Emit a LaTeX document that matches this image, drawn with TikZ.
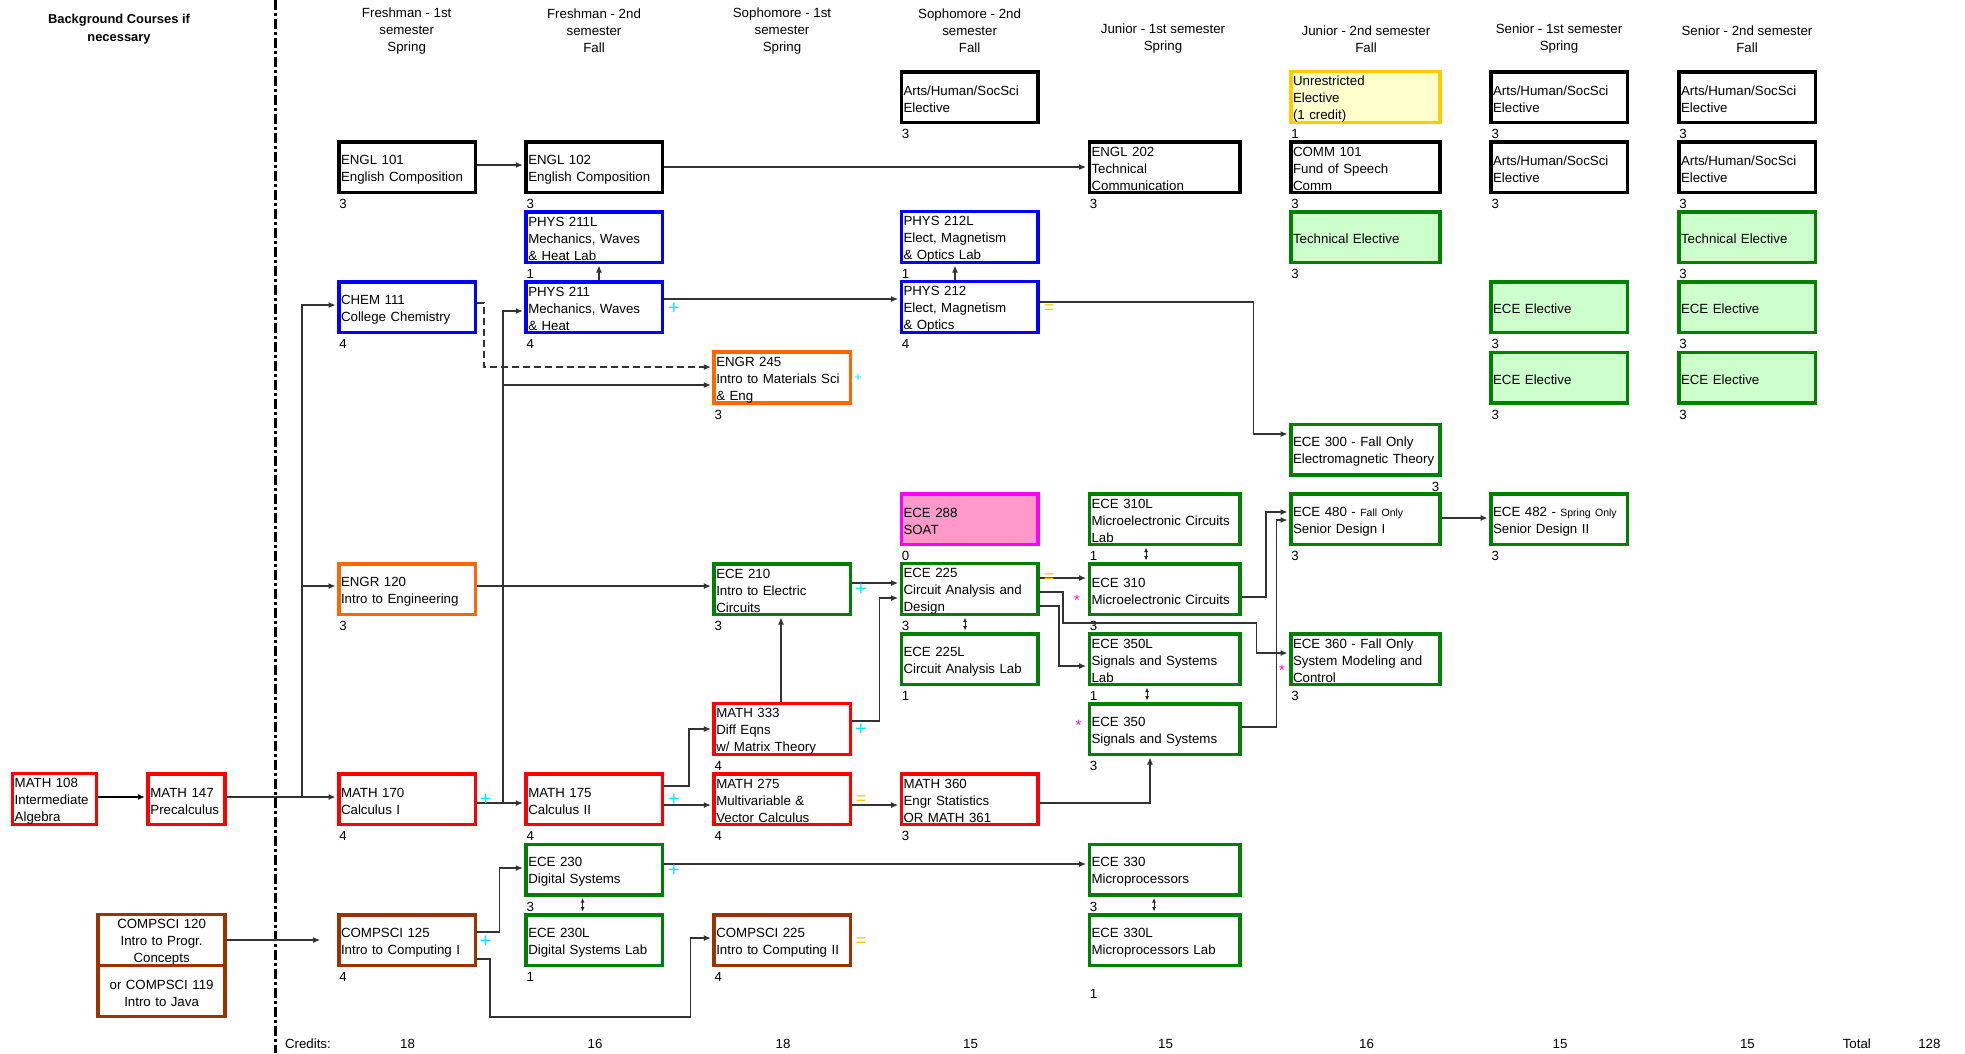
\documentclass[tikz,border=0pt]{standalone}
\usepackage{fontspec}
\setmainfont{Liberation Sans}
\usetikzlibrary{arrows.meta,calc}
\definecolor{ornge}{RGB}{255,102,0}
\definecolor{grnd}{RGB}{0,128,0}
\definecolor{brwn}{RGB}{153,51,0}
\definecolor{yelb}{RGB}{255,204,0}
\definecolor{yelf}{RGB}{255,255,204}
\definecolor{grnf}{RGB}{204,255,204}
\definecolor{pnkf}{RGB}{255,153,204}
\definecolor{magb}{RGB}{255,0,255}
\definecolor{cyanp}{RGB}{0,238,255}
\definecolor{blub}{RGB}{0,0,255}
\definecolor{redb}{RGB}{255,0,0}
\newcommand\nrm{\fontsize{13.3}{17}\selectfont}
\newcommand\smf{\fontsize{10.5}{17}\selectfont}
\newcommand\cred[2]{\node[crd] (#1-c) at ([xshift=2.25pt,yshift=-10pt]#1.south west) {#2};}
\tikzset{
  bx/.style={draw, line width=3.5pt, inner xsep=2.25pt, inner ysep=0pt, minimum height=50.5pt, align=left, text width=#1, execute at begin node={\rule{0pt}{14pt}}},
  bx/.default=132pt,
  sblk/.style={bx, draw=black},
  sblu/.style={bx, draw=blub},
  sred/.style={bx, draw=redb},
  sorg/.style={bx, draw=ornge},
  sgrn/.style={bx, draw=grnd},
  sbrn/.style={bx, draw=brwn},
  sylw/.style={bx=144.5pt, draw=yelb, fill=yelf},
  stech/.style={bx, draw=grnd, fill=grnf},
  spnk/.style={bx, draw=magb, fill=pnkf},
  wJ/.style={text width=146pt},
  wK/.style={text width=144.5pt},
  crd/.style={anchor=west, inner sep=0pt},
  arr/.style={draw=black!80, line width=1.1pt, -{Latex[length=7pt,width=6pt]}, shorten >=1.5pt},
  dbl/.style={draw=black!85, line width=1pt, {Latex[length=4.5pt,width=4pt]}-{Latex[length=4.5pt,width=4pt]}, shorten >=1.5pt, shorten <=1.5pt},
  cyplus/.style={text=cyanp, font=\fontsize{20}{20}\selectfont, inner sep=0pt},
  yeq/.style={text=yelb, font=\fontsize{18}{18}\selectfont, inner sep=0pt},
  mstar/.style={text=magb, font=\fontsize{15}{15}\selectfont, inner sep=0pt},
}
\begin{document}
\begin{tikzpicture}[x=1pt,y=-1pt, every node/.append style={font=\nrm}]
\useasboundingbox (0,0) rectangle (1965,1053);
% divider
\draw[line width=3pt, dash pattern=on 10pt off 3pt on 3pt off 3pt] (275.5,0) -- (275.5,1053);
% headers
\node[align=center, font=\bfseries\fontsize{12.9}{18}\selectfont] (bg) at (119,29) {Background Courses if\\necessary};
\node[align=center] (h1) at (406.7,31) {Freshman - 1st\\semester\\Spring};
\node[align=center] (h2) at (594,31) {Freshman - 2nd\\semester\\Fall};
\node[align=center] (h3) at (782,31) {Sophomore - 1st\\semester\\Spring};
\node[align=center] (h4) at (969.6,31) {Sophomore - 2nd\\semester\\Fall};
\node[align=center] (h5) at (1163,39) {Junior - 1st semester\\Spring};
\node[align=center] (h6) at (1366,39) {Junior - 2nd semester\\Fall};
\node[align=center] (h7) at (1559,39) {Senior - 1st semester\\Spring};
\node[align=center] (h8) at (1747,39) {Senior - 2nd semester\\Fall};
% row 0
\node[sblk] (ahs4) at (969.5,97) {Arts/Human/SocSci\\Elective}; \cred{ahs4}{3}
\node[sylw] (unr6) at (1365.25,97) {Unrestricted\\Elective\\(1 credit)}; \cred{unr6}{1}
\node[sblk] (ahs7a) at (1559.1,97) {Arts/Human/SocSci\\Elective}; \cred{ahs7a}{3}
\node[sblk] (ahs8a) at (1747,97) {Arts/Human/SocSci\\Elective}; \cred{ahs8a}{3}
% row 1
\node[sblk] (engl101) at (407,167) {ENGL 101\\English Composition}; \cred{engl101}{3}
\node[sblk] (engl102) at (594.25,167) {ENGL 102\\English Composition}; \cred{engl102}{3}
\node[sblk, wJ] (engl202) at (1164.5,167) {ENGL 202\\Technical\\Communication}; \cred{engl202}{3}
\node[sblk, wK] (comm101) at (1365.25,167) {COMM 101\\Fund of Speech\\Comm}; \cred{comm101}{3}
\node[sblk] (ahs7b) at (1559.1,167) {Arts/Human/SocSci\\Elective}; \cred{ahs7b}{3}
\node[sblk] (ahs8b) at (1747,167) {Arts/Human/SocSci\\Elective}; \cred{ahs8b}{3}
% row 2
\node[sblu] (phys211l) at (594.25,237) {PHYS 211L\\Mechanics, Waves\\\& Heat Lab}; \cred{phys211l}{1}
\node[sblu] (phys212l) at (969.5,237) {PHYS 212L\\Elect, Magnetism\\\& Optics Lab}; \cred{phys212l}{1}
\node[stech, wK] (tech6) at (1365.25,237) {Technical Elective}; \cred{tech6}{3}
\node[stech] (tech8) at (1747,237) {Technical Elective}; \cred{tech8}{3}
% row 3
\node[sblu] (chem111) at (407,307) {CHEM 111\\College Chemistry}; \cred{chem111}{4}
\node[sblu] (phys211) at (594.25,307) {PHYS 211\\Mechanics, Waves\\\& Heat}; \cred{phys211}{4}
\node[sblu] (phys212) at (969.5,307) {PHYS 212\\Elect, Magnetism\\\& Optics}; \cred{phys212}{4}
\node[stech] (ecee7a) at (1559.1,307) {ECE Elective}; \cred{ecee7a}{3}
\node[stech] (ecee8a) at (1747,307) {ECE Elective}; \cred{ecee8a}{3}
% row 4
\node[sorg] (engr245) at (782.25,377.5) {ENGR 245\\Intro to Materials Sci\\\& Eng}; \cred{engr245}{3}
\node[stech] (ecee7b) at (1559.1,377.5) {ECE Elective}; \cred{ecee7b}{3}
\node[stech] (ecee8b) at (1747,377.5) {ECE Elective}; \cred{ecee8b}{3}
% row 5
\node[sgrn, wK] (ece300) at (1365.25,449.5) {ECE 300 - Fall Only\\Electromagnetic Theory};
\node[anchor=east, inner sep=0pt] (ece300-c) at ([xshift=-2pt,yshift=-10pt]ece300.south east) {3};
% row 6
\node[spnk] (ece288) at (969.5,519) {ECE 288\\SOAT}; \cred{ece288}{0}
\node[sgrn, wJ] (ece310l) at (1164.5,519) {ECE 310L\\Microelectronic Circuits\\Lab}; \cred{ece310l}{1}
\node[sgrn, wK] (ece480) at (1365.25,519) {ECE 480 - {\smf Fall Only}\\Senior Design I}; \cred{ece480}{3}
\node[sgrn] (ece482) at (1559.1,519) {ECE 482 - {\smf Spring Only}\\Senior Design II}; \cred{ece482}{3}
% row 7
\node[sorg] (engr120) at (407,589) {ENGR 120\\Intro to Engineering}; \cred{engr120}{3}
\node[sgrn] (ece210) at (782.25,589) {ECE 210\\Intro to Electric\\Circuits}; \cred{ece210}{3}
\node[sgrn] (ece225) at (969.5,589) {ECE 225\\Circuit Analysis and\\Design}; \cred{ece225}{3}
\node[sgrn, wJ] (ece310) at (1164.5,589) {ECE 310\\Microelectronic Circuits}; \cred{ece310}{3}
% row 8
\node[sgrn] (ece225l) at (969.5,659) {ECE 225L\\Circuit Analysis Lab}; \cred{ece225l}{1}
\node[sgrn, wJ] (ece350l) at (1164.5,659) {ECE 350L\\Signals and Systems\\Lab}; \cred{ece350l}{1}
\node[sgrn, wK] (ece360) at (1365.25,659) {ECE 360 - Fall Only\\System Modeling and\\Control}; \cred{ece360}{3}
% row 9
\node[sred] (m333) at (782.25,729) {MATH 333\\Diff Eqns\\w/ Matrix Theory}; \cred{m333}{4}
\node[sgrn, wJ] (ece350) at (1164.5,729) {ECE 350\\Signals and Systems}; \cred{ece350}{3}
% row 10
\node[sred, text width=79.3pt] (n108) at (54.35,799) {MATH 108\\Intermediate\\Algebra};
\node[sred, text width=72.4pt] (n147) at (186.6,799) {MATH 147\\Precalculus};
\node[sred] (m170) at (407,799) {MATH 170\\Calculus I}; \cred{m170}{4}
\node[sred] (m175) at (594.25,799) {MATH 175\\Calculus II}; \cred{m175}{4}
\node[sred] (m275) at (782.25,799) {MATH 275\\Multivariable \&\\Vector Calculus}; \cred{m275}{4}
\node[sred] (m360) at (969.5,799) {MATH 360\\Engr Statistics\\OR MATH 361}; \cred{m360}{3}
% row 11
\node[sgrn] (ece230) at (594.25,869.5) {ECE 230\\Digital Systems}; \cred{ece230}{3}
\node[sgrn, wJ] (ece330) at (1164.5,869.5) {ECE 330\\Microprocessors}; \cred{ece330}{3}
% row 12
\node[sbrn, align=center, text width=122.4pt] (cs120) at (161.6,940) {COMPSCI 120\\Intro to Progr.\\Concepts};
\node[sbrn, align=center, text width=122.4pt, minimum height=51pt] (cs119) at (161.6,990.75) {or COMPSCI 119\\Intro to Java};
\node[sbrn] (cs125) at (407,940) {COMPSCI 125\\Intro to Computing I}; \cred{cs125}{4}
\node[sgrn] (ece230l) at (594.25,940) {ECE 230L\\Digital Systems Lab}; \cred{ece230l}{1}
\node[sbrn] (cs225) at (782.25,940) {COMPSCI 225\\Intro to Computing II}; \cred{cs225}{4}
\node[sgrn, wJ] (ece330l) at (1164.5,940) {ECE 330L\\Microprocessors Lab};
\node[crd] (ece330l-c) at ([xshift=2.25pt,yshift=-26.75pt]ece330l.south west) {1};
% credits row
\node[anchor=west, inner sep=0pt] (crlab) at (284.8,1044) {Credits:};
\node (cr1) at (407.6,1044) {18};
\node (cr2) at (595,1044) {16};
\node (cr3) at (783,1044) {18};
\node (cr4) at (970.5,1044) {15};
\node (cr5) at (1165.6,1044) {15};
\node (cr6) at (1366.6,1044) {16};
\node (cr7) at (1560,1044) {15};
\node (cr8) at (1747.4,1044) {15};
\node (crt) at (1856.8,1044) {Total};
\node (crn) at (1929.4,1044) {128};
% connectors
\coordinate (j1) at (302,797);
\coordinate (j2) at (503,803);
\coordinate (cs125in) at (321.5,940);
\draw[arr, line width=2pt, draw=black] (n108.east |- 0,797) -- (n147.west |- 0,797);
\draw[arr] (n147.east |- 0,797) -- (m170.west |- 0,797);
\draw[arr] (j1) |- (chem111.west |- 0,305);
\draw[arr] (j1) |- (engr120.west |- 0,586);
\draw[arr] (m170.east |- 0,803) -- (m175.west |- 0,803);
\draw[arr] (j2) |- (phys211.west |- 0,311);
\draw[arr] (j2) |- (engr245.west |- 0,385);
\draw[arr] (engl101.east |- 0,165) -- (engl102.west |- 0,165);
\draw[arr] (engl102.east |- 0,167) -- (engl202.west |- 0,167);
\draw[arr] (phys211.north -| 599,0) -- (phys211l.south -| 599,0);
\draw[arr] (phys211.east |- 0,299) -- (phys212.west |- 0,299);
\draw[arr] (phys212.north -| 955,0) -- (phys212l.south -| 955,0);
\draw[arr] (phys212.east |- 0,302) -- (1253.5,302) -- (1253.5,434) -- (ece300.west |- 0,434);
\draw[arr, dashed, dash pattern=on 7pt off 4pt] (chem111.east |- 0,303) -- (484,303) -- (484,367) -- (engr245.west |- 0,367);
\draw[arr] (engr120.east |- 0,586) -- (ece210.west |- 0,586);
\draw[arr] (ece210.east |- 0,583) -- (ece225.west |- 0,583);
\draw[arr] (m333.north -| 781,0) -- (ece210.south -| 781,0);
\draw[arr] (m333.east |- 0,721) -- (879.5,721) -- (879.5,598) -- (ece225.west |- 0,598);
\draw[arr] (m175.east |- 0,786) -- (689,786) -- (689,729) -- (m333.west |- 0,729);
\draw[arr] (m175.east |- 0,805) -- (m275.west |- 0,805);
\draw[arr] (m275.east |- 0,805) -- (m360.west |- 0,805);
\draw[arr] (m360.east |- 0,803) -- (1150,803) -- (ece350.south -| 1150,0);
\draw[dbl] (ece225.south -| 965,0) -- (ece225l.north -| 965,0);
\draw[arr] (ece225.east |- 0,578) -- (ece310.west |- 0,578);
\draw[arr] (ece225.east |- 0,592) -- (1063,592) -- (1063,623) -- (1256.6,623) -- (1256.6,653) -- (ece360.west |- 0,653);
\draw[arr] (ece225.east |- 0,606) -- (1059,606) -- (1059,666) -- (ece350l.west |- 0,666);
\draw[dbl] (ece310l.south -| 1146,0) -- (ece310.north -| 1146,0);
\draw[dbl] (ece350l.south -| 1147,0) -- (ece350.north -| 1147,0);
\draw[arr] (ece310.east |- 0,597) -- (1266,597) -- (1266,512) -- (ece480.west |- 0,512);
\draw[arr] (ece350.east |- 0,727) -- (1276.5,727) -- (1276.5,520) -- (ece480.west |- 0,520);
\draw[arr] (ece480.east |- 0,518) -- (ece482.west |- 0,518);
\draw[arr] (ece230.east |- 0,864) -- (ece330.west |- 0,864);
\draw[dbl] (ece230.south -| 582.6,0) -- (ece230l.north -| 582.6,0);
\draw[dbl] (ece330.south -| 1154,0) -- (ece330l.north -| 1154,0);
\draw[arr] (cs125.east |- 0,932) -- (499.5,932) -- (499.5,868) -- (ece230.west |- 0,868);
\draw[arr] (cs125.east |- 0,959) -- (490,959) -- (490,1017) -- (690.6,1017) -- (690.6,938) -- (cs225.west |- 0,938);
\draw[arr] (cs120.east |- 0,940) -- (cs125in);
% symbols
\node[cyplus] (p1) at (674,309) {+};
\node[cyplus, font=\fontsize{12}{12}\selectfont] (p2) at (858,378) {+};
\node[cyplus] (p3) at (861,590) {+};
\node[cyplus] (p4) at (861,730) {+};
\node[cyplus] (p5) at (485.7,800) {+};
\node[cyplus] (p6) at (674,800) {+};
\node[cyplus] (p7) at (674,871) {+};
\node[cyplus] (p8) at (485.7,942) {+};
\node[yeq] (e1) at (1049,309) {=};
\node[yeq] (e2) at (1049,578) {=};
\node[yeq] (e3) at (861,800) {=};
\node[yeq] (e4) at (861,942) {=};
\node[mstar] (s1) at (1077,600) {*};
\node[mstar] (s2) at (1078.5,725) {*};
\node[mstar] (s3) at (1282,670) {*};
\end{tikzpicture}
\end{document}
